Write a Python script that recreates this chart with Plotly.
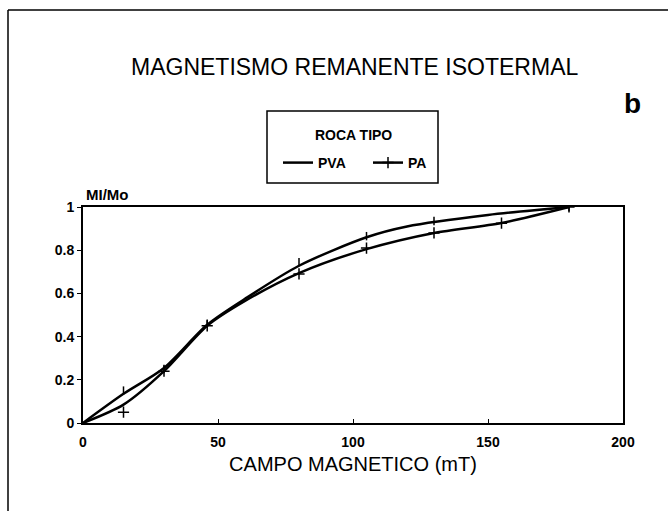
import plotly.graph_objects as go

# Data
# measured points
pva_pts_x = [15, 30, 46, 80, 105, 130, 180]
pva_pts_y = [0.15, 0.25, 0.46, 0.745, 0.865, 0.935, 1.0]
pa_pts_x = [15, 30, 46, 80, 105, 130, 155, 180]
pa_pts_y = [0.05, 0.24, 0.45, 0.69, 0.81, 0.88, 0.925, 1.0]
# smooth fitted curves as drawn
pva_curve_x = [0, 15, 30, 46, 60, 80, 105, 120, 150, 180]
pva_curve_y = [0, 0.135, 0.255, 0.455, 0.575, 0.728, 0.86, 0.91, 0.963, 1.0]
pa_curve_x = [0, 15, 30, 46, 60, 80, 105, 130, 155, 180]
pa_curve_y = [0, 0.085, 0.24, 0.45, 0.565, 0.694, 0.805, 0.88, 0.926, 1.0]

x_ticks = [0, 50, 100, 150, 200]
y_ticks = [0, 0.2, 0.4, 0.6, 0.8, 1]
y_tick_labels = ["0", "0.2", "0.4", "0.6", "0.8", "1"]

FONT = "Liberation Sans, Arial, sans-serif"

# plot area in pixels: x 83..623, y 207..423
L, R, T, B = 83, 623, 207, 423
W, H = R - L, B - T


def px(x):
    return (x - L) / W


def py(y):
    return (B - y) / H


fig = go.Figure()

fig.add_trace(go.Scatter(
    x=pva_curve_x, y=pva_curve_y, name="<b>PVA</b>", mode="lines",
    line=dict(color="black", width=2.5, shape="spline", smoothing=0.8),
))
fig.add_trace(go.Scatter(
    x=pva_pts_x, y=pva_pts_y, showlegend=False, mode="markers",
    marker=dict(symbol="line-ns-open", size=6, color="black", line=dict(width=1.5, color="black")),
    hoverinfo="skip",
))
fig.add_trace(go.Scatter(
    x=pa_curve_x, y=pa_curve_y, showlegend=False, mode="lines",
    line=dict(color="black", width=2.5, shape="spline", smoothing=0.8),
    hoverinfo="skip",
))
fig.add_trace(go.Scatter(
    x=pa_pts_x, y=pa_pts_y, name="<b>PA</b>", mode="markers", showlegend=False,
    marker=dict(symbol="cross-thin-open", size=8, color="black", line=dict(width=1.5, color="black")),
))
# legend sample for PA shows a line with a cross
fig.add_trace(go.Scatter(
    x=[None], y=[None], name="<b>PA</b>", mode="lines+markers",
    line=dict(color="black", width=2.5),
    marker=dict(symbol="cross-thin-open", size=8, color="black", line=dict(width=1.5, color="black")),
))

fig.update_layout(
    width=668, height=511,
    margin=dict(l=L, r=668 - R, t=T, b=511 - B, autoexpand=False),
    paper_bgcolor="white", plot_bgcolor="white",
    font=dict(family=FONT, color="black"),
    showlegend=True,
    legend=dict(
        orientation="h",
        x=px(368), xanchor="center", xref="paper",
        y=py(163), yanchor="middle",
        borderwidth=0,
        bgcolor="rgba(0,0,0,0)",
        font=dict(size=14, family=FONT, color="black"),
        itemwidth=30,
        entrywidth=45,
        traceorder="normal",
    ),
    xaxis=dict(
        range=[0, 200], tickvals=x_ticks, ticktext=[f"<b>{v}</b>" for v in x_ticks],
        showgrid=False, zeroline=False,
        showline=True, linecolor="black", linewidth=2, mirror=True,
        ticks="inside", ticklen=4, tickcolor="black",
        tickfont=dict(size=14, family=FONT),
        ticklabelstandoff=5,
        title=dict(text="CAMPO MAGNETICO (mT)", font=dict(size=20, family=FONT), standoff=8),
    ),
    yaxis=dict(
        range=[0, 1], tickvals=y_ticks, ticktext=[f"<b>{t}</b>" for t in y_tick_labels],
        showgrid=False, zeroline=False,
        showline=True, linecolor="black", linewidth=2, mirror=True,
        ticks="outside", ticklen=4, tickcolor="black",
        tickfont=dict(size=14, family=FONT),
    ),
    annotations=[
        dict(text="MAGNETISMO REMANENTE ISOTERMAL", x=px(354), y=py(67), xref="paper", yref="paper",
             xanchor="center", yanchor="middle",
             showarrow=False, font=dict(size=23, family=FONT)),
        dict(text="<b>b</b>", x=px(632), y=py(103), xref="paper", yref="paper",
             xanchor="center", yanchor="middle",
             showarrow=False, font=dict(size=28, family=FONT)),
        dict(text="<b>ROCA TIPO</b>", x=px(353), y=py(135), xref="paper", yref="paper",
             xanchor="center", yanchor="middle",
             showarrow=False, font=dict(size=14, family=FONT)),
        dict(text="<b>MI/Mo</b>", x=px(107), y=py(194), xref="paper", yref="paper",
             xanchor="center", yanchor="middle",
             showarrow=False, font=dict(size=15, family=FONT)),
    ],
    shapes=[
        dict(type="rect", xref="paper", yref="paper", x0=px(267), x1=px(438), y0=py(111), y1=py(183),
             line=dict(color="black", width=1.5), fillcolor="rgba(0,0,0,0)"),
        dict(type="line", xref="paper", yref="paper", x0=px(8), x1=px(668), y0=py(10), y1=py(10),
             line=dict(color="black", width=1.5)),
        dict(type="line", xref="paper", yref="paper", x0=px(8), x1=px(8), y0=py(10), y1=py(511),
             line=dict(color="black", width=1.5)),
    ],
)

fig.write_html("out.html")
